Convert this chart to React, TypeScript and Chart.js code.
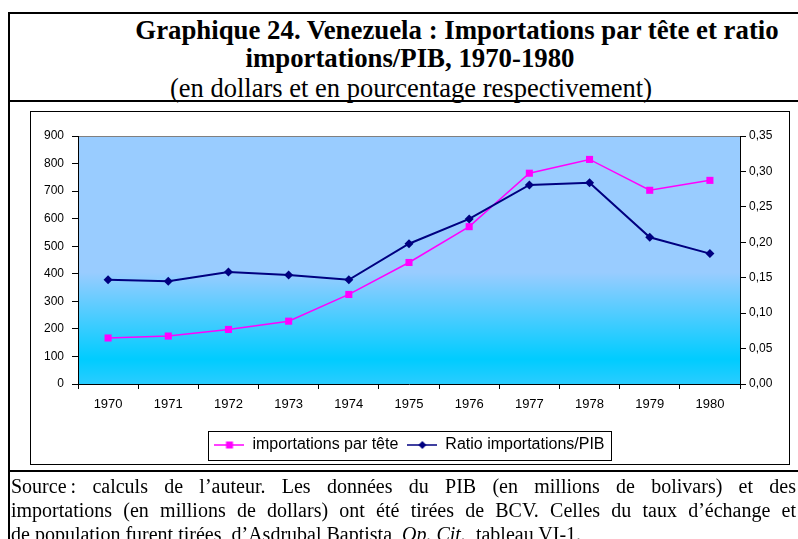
import React, { useEffect, useRef } from 'react';
import { Chart, registerables } from 'chart.js';

Chart.register(...registerables);

const years = ['1970', '1971', '1972', '1973', '1974', '1975', '1976', '1977', '1978', '1979', '1980'];
const importsPerCapita = [167, 174, 198, 228, 325, 441, 571, 765, 815, 703, 739];
const importsToGdp = [0.147, 0.145, 0.158, 0.154, 0.147, 0.198, 0.233, 0.281, 0.284, 0.207, 0.184];
const leftTicks = [0, 100, 200, 300, 400, 500, 600, 700, 800, 900];
const rightTicks = [0, 0.05, 0.1, 0.15, 0.2, 0.25, 0.3, 0.35];
const seriesLabels = ['importations par tête', 'Ratio importations/PIB'];
const seriesColors = ['#FF00FF', '#000080'];

const SANS = '"Liberation Sans", Arial, sans-serif';
const SERIF = '"Liberation Serif", "Times New Roman", serif';

function makeSymbol(color: string, kind: 'square' | 'diamond', lw: number): HTMLCanvasElement {
  const c = document.createElement('canvas');
  c.width = 30;
  c.height = 10;
  const ctx = c.getContext('2d')!;
  ctx.strokeStyle = color;
  ctx.lineWidth = lw;
  ctx.beginPath();
  ctx.moveTo(0, 5);
  ctx.lineTo(30, 5);
  ctx.stroke();
  ctx.fillStyle = color;
  if (kind === 'square') {
    ctx.fillRect(11.5, 1.5, 7, 7);
  } else {
    ctx.beginPath();
    ctx.moveTo(15, 1);
    ctx.lineTo(19, 5);
    ctx.lineTo(15, 9);
    ctx.lineTo(11, 5);
    ctx.closePath();
    ctx.fill();
  }
  return c;
}

const plotBg = {
  id: 'plotBg',
  beforeDraw(chart: any) {
    const { ctx, chartArea: a } = chart;
    const g = ctx.createLinearGradient(0, a.top, 0, a.bottom);
    g.addColorStop(0, '#99CCFF');
    g.addColorStop(0.55, '#99CCFF');
    g.addColorStop(0.9, '#00CCFF');
    g.addColorStop(1, '#2ACCFF');
    ctx.save();
    ctx.fillStyle = g;
    ctx.fillRect(a.left, a.top, a.right - a.left, a.bottom - a.top);
    ctx.strokeStyle = '#808080';
    ctx.lineWidth = 1;
    ctx.beginPath();
    ctx.moveTo(a.left, Math.round(a.top) + 0.5);
    ctx.lineTo(a.right, Math.round(a.top) + 0.5);
    ctx.stroke();
    ctx.restore();
  },
};

const legendFrame = {
  id: 'legendFrame',
  afterDraw(chart: any) {
    const hb = chart.legend && chart.legend.legendHitBoxes;
    if (!hb || !hb.length) return;
    const ctx = chart.ctx;
    const first = hb[0];
    const last = hb[hb.length - 1];
    const x1 = Math.round(first.left - 6) + 0.5;
    const x2 = Math.round(last.left + last.width + 6) + 0.5;
    const cy = first.top + first.height / 2;
    const y1 = Math.round(cy - 14.5) + 0.5;
    ctx.save();
    ctx.strokeStyle = '#000';
    ctx.lineWidth = 1;
    ctx.strokeRect(x1, y1, x2 - x1, 29);
    ctx.restore();
  },
};

function ChartCanvas() {
  const ref = useRef<HTMLCanvasElement | null>(null);
  useEffect(() => {
    if (!ref.current) return;
    const symbols = [
      makeSymbol(seriesColors[0], 'square', 1.5),
      makeSymbol(seriesColors[1], 'diamond', 1.5),
    ];
    const tickFont = { family: SANS, size: 12 };
    const chart = new Chart(ref.current, {
      type: 'line',
      data: {
        labels: years,
        datasets: [
          {
            label: seriesLabels[0],
            data: importsPerCapita,
            yAxisID: 'y',
            borderColor: seriesColors[0],
            backgroundColor: seriesColors[0],
            borderWidth: 1.5,
            pointStyle: 'rect',
            pointRadius: 5,
            pointBorderWidth: 0,
            tension: 0,
            order: 1,
          },
          {
            label: seriesLabels[1],
            data: importsToGdp,
            yAxisID: 'y1',
            borderColor: seriesColors[1],
            backgroundColor: seriesColors[1],
            borderWidth: 2,
            pointStyle: 'rectRot',
            pointRadius: 4.5,
            pointBorderWidth: 0,
            tension: 0,
            order: 0,
          },
        ],
      },
      options: {
        animation: false,
        responsive: false,
        devicePixelRatio: 1,
        events: [],
        layout: { padding: { left: 30, right: 9, top: 136, bottom: 76 } },
        plugins: {
          tooltip: { enabled: false },
          title: { display: false },
          legend: {
            display: true,
            position: 'bottom',
            labels: {
              usePointStyle: true,
              pointStyleWidth: 30,
              padding: 9,
              color: '#000',
              font: { family: SANS, size: 16 },
              generateLabels: () =>
                seriesLabels.map((t, i) => ({
                  text: t,
                  fillStyle: seriesColors[i],
                  strokeStyle: seriesColors[i],
                  lineWidth: 0,
                  pointStyle: symbols[i],
                  hidden: false,
                  datasetIndex: i,
                  fontColor: '#000',
                })),
            },
          },
        },
        scales: {
          x: {
            type: 'category',
            offset: true,
            grid: { offset: true, drawOnChartArea: false, drawTicks: true, tickLength: 5, color: '#000' },
            border: { color: '#000', width: 1 },
            ticks: { color: '#000', font: { family: SANS, size: 13 }, padding: 8, maxRotation: 0, autoSkip: false },
            afterFit: (s: any) => {
              s.height = 44;
            },
          },
          y: {
            position: 'left',
            min: 0,
            max: 900,
            afterBuildTicks: (s: any) => {
              s.ticks = leftTicks.map((v) => ({ value: v }));
            },
            grid: { drawOnChartArea: false, drawTicks: true, tickLength: 6, color: '#000' },
            border: { color: '#000', width: 1 },
            ticks: { color: '#000', font: tickFont, padding: 8 },
            afterFit: (s: any) => {
              s.width = 48;
            },
          },
          y1: {
            position: 'right',
            min: 0,
            max: 0.35,
            afterBuildTicks: (s: any) => {
              s.ticks = rightTicks.map((v) => ({ value: v }));
            },
            grid: { drawOnChartArea: false, drawTicks: true, tickLength: 6, color: '#000' },
            border: { color: '#000', width: 1 },
            ticks: {
              color: '#000',
              font: tickFont,
              padding: 3,
              callback: (v: any) => Number(v).toFixed(2).replace('.', ','),
            },
            afterFit: (s: any) => {
              s.width = 49;
            },
          },
        },
      },
      plugins: [plotBg, legendFrame],
    } as any);
    return () => chart.destroy();
  }, []);
  return (
    <canvas
      ref={ref}
      width={798}
      height={539}
      style={{ position: 'absolute', left: 0, top: 0, width: 798, height: 539 }}
    />
  );
}

const hLine = (top: number): React.CSSProperties => ({
  position: 'absolute',
  left: 8,
  top,
  width: 790,
  height: 2,
  background: '#000',
});

const titleLine = (center: number, top: number, bold: boolean, size: number): React.CSSProperties => ({
  position: 'absolute',
  left: center - 400,
  top,
  width: 800,
  textAlign: 'center',
  whiteSpace: 'nowrap',
  fontFamily: SERIF,
  fontSize: size,
  lineHeight: '28px',
  fontWeight: bold ? 'bold' : 'normal',
  color: '#000',
});

const srcLine = (top: number, justify: boolean): React.CSSProperties => ({
  position: 'absolute',
  left: 11,
  top,
  width: 785,
  fontFamily: SERIF,
  fontSize: 20,
  lineHeight: '24px',
  color: '#000',
  whiteSpace: justify ? 'normal' : 'nowrap',
  textAlign: justify ? 'justify' : 'left',
  textAlignLast: justify ? 'justify' : 'left',
});

export default function App() {
  return (
    <div
      style={{
        position: 'absolute',
        left: 0,
        top: 0,
        width: 798,
        height: 539,
        overflow: 'hidden',
        background: '#fff',
      }}
    >
      <div style={hLine(12)} />
      <div style={hLine(100)} />
      <div style={hLine(470)} />
      <div style={{ position: 'absolute', left: 8, top: 12, width: 2, height: 527, background: '#000' }} />
      <div style={titleLine(457, 16, true, 26.8)}>Graphique 24. Venezuela : Importations par tête et ratio</div>
      <div style={titleLine(410, 44, true, 26.8)}>importations/PIB, 1970-1980</div>
      <div style={titleLine(411, 74, false, 26.5)}>(en dollars et en pourcentage respectivement)</div>
      <div
        style={{
          position: 'absolute',
          left: 30,
          top: 111,
          width: 758,
          height: 352,
          border: '1px solid #000',
        }}
      />
      <ChartCanvas />
      <div style={srcLine(474, true)}>
        Source{'\u202F'}: calculs de l’auteur. Les données du PIB (en millions de bolivars) et des
      </div>
      <div style={srcLine(498, true)}>
        importations (en millions de dollars) ont été tirées de BCV. Celles du taux d’échange et
      </div>
      <div style={srcLine(522, false)}>
        de population furent tirées&nbsp; d’Asdrubal Baptista, <i>Op. Cit.</i>, tableau VI-1.
      </div>
    </div>
  );
}
